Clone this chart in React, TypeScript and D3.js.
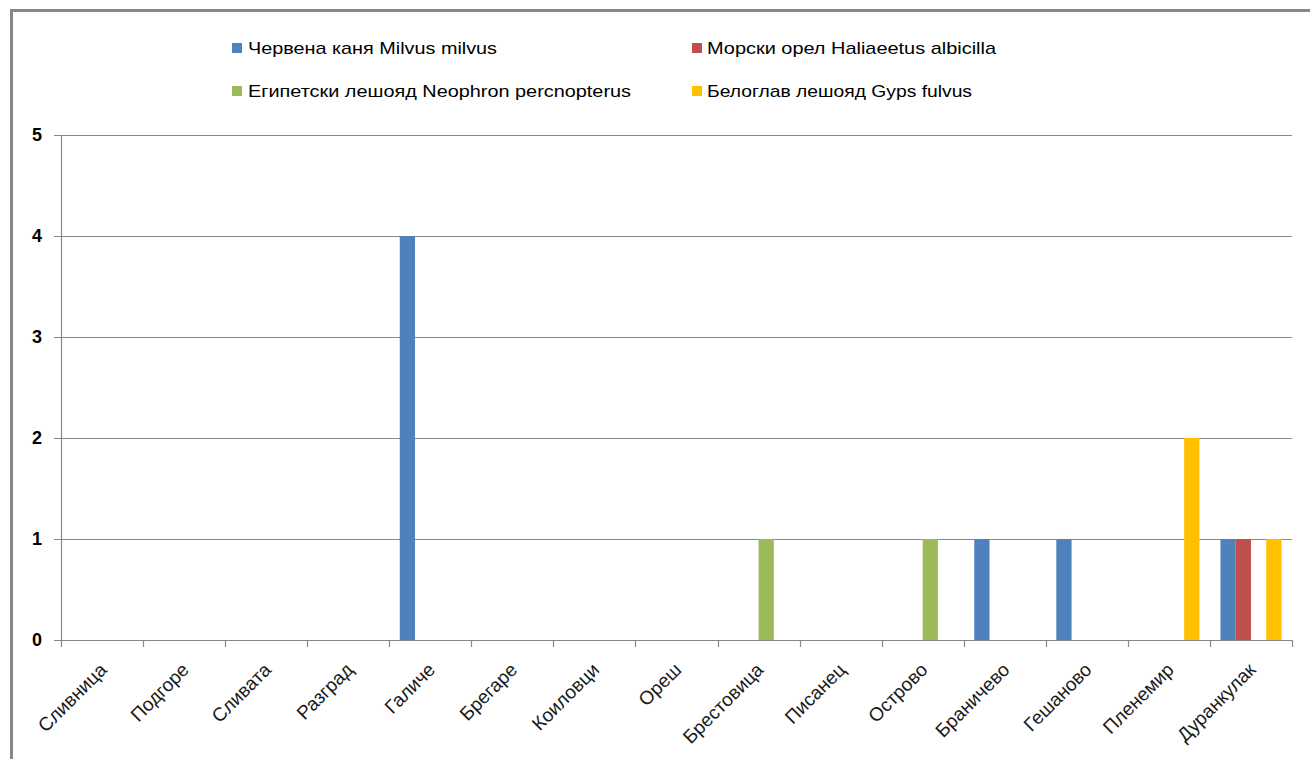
import React from "react";
import * as d3 from "d3";

const categories = ["Сливница", "Подгоре", "Сливата", "Разград", "Галиче", "Брегаре", "Коиловци", "Ореш", "Брестовица", "Писанец", "Острово", "Браничево", "Гешаново", "Пленемир", "Дуранкулак"];
const seriesNames = ["Червена каня Milvus milvus", "Морски орел Haliaeetus albicilla", "Египетски лешояд Neophron percnopterus", "Белоглав лешояд Gyps fulvus"];
const seriesColors = ["#4F81BD", "#C0504D", "#9BBB59", "#FFC000"];
const redKite = [0, 0, 0, 0, 4, 0, 0, 0, 0, 0, 0, 1, 1, 0, 1];
const whiteTailedEagle = [0, 0, 0, 0, 0, 0, 0, 0, 0, 0, 0, 0, 0, 0, 1];
const egyptianVulture = [0, 0, 0, 0, 0, 0, 0, 0, 1, 0, 1, 0, 0, 0, 0];
const griffonVulture = [0, 0, 0, 0, 0, 0, 0, 0, 0, 0, 0, 0, 0, 2, 1];
const yTicks = [0, 1, 2, 3, 4, 5];
const seriesValues = [redKite, whiteTailedEagle, egyptianVulture, griffonVulture];

const W = 1310;
const H = 759;
const left = 61;
const right = 1292;
const top = 135;
const bottom = 640;

export default function App() {
  const x = d3.scaleBand<string>().domain(categories).range([left, right]).paddingInner(0).paddingOuter(0);
  const inner = d3.scaleBand<number>().domain([0, 1, 2, 3]).range([10.5, x.bandwidth() - 10.5]);
  const y = d3.scaleLinear().domain([0, 5]).range([bottom, top]);
  const grid = "#888888";
  const legendPos = [
    { sx: 232, tx: 248, ty: 48, w: 249 },
    { sx: 692, tx: 707, ty: 48, w: 289 },
    { sx: 232, tx: 248, ty: 91, w: 383 },
    { sx: 692, tx: 707, ty: 91, w: 265 },
  ];
  return (
    <svg width={W} height={H} style={{ position: "absolute", left: 0, top: 0, background: "#fff" }}>
      <rect x={0} y={0} width={W} height={H} fill="#fff" />
      <rect x={11.5} y={10.5} width={W + 20} height={H + 20} fill="none" stroke="#878787" strokeWidth={3} />
      {yTicks.filter((t) => t > 0).map((t) => (
        <line key={t} x1={left - 7} x2={right} y1={Math.round(y(t)) + 0.5} y2={Math.round(y(t)) + 0.5} stroke={grid} strokeWidth={1.2} />
      ))}
      <line x1={left + 0.5} x2={left + 0.5} y1={top} y2={bottom + 7} stroke={grid} strokeWidth={1.2} />
      <line x1={left - 7} x2={right} y1={bottom + 0.5} y2={bottom + 0.5} stroke={grid} strokeWidth={1.2} />
      {categories.map((c, i) => (
        <line key={"t" + i} x1={Math.round(x(c)! + x.bandwidth()) + 0.5} x2={Math.round(x(c)! + x.bandwidth()) + 0.5} y1={bottom} y2={bottom + 7} stroke={grid} strokeWidth={1.2} />
      ))}
      {seriesValues.map((vals, s) =>
        vals.map((v, i) =>
          v > 0 ? (
            <rect key={s + "-" + i} x={x(categories[i])! + inner(s)!} width={inner.bandwidth()} y={y(v)} height={y(0) - y(v)} fill={seriesColors[s]} />
          ) : null
        )
      )}
      {yTicks.map((t) => (
        <text key={"y" + t} x={37} y={y(t)} dy="0.36em" textAnchor="middle" fontFamily="Liberation Sans, Arial, sans-serif" fontWeight="bold" fontSize={18} fill="#000">
          {t}
        </text>
      ))}
      {categories.map((c, i) => {
        const cx = x(c)! + x.bandwidth() / 2 + 6;
        const cy = bottom + 31;
        return (
          <text key={"x" + i} x={cx} y={cy} transform={`rotate(-45 ${cx} ${cy})`} textAnchor="end" fontFamily="Liberation Sans, Arial, sans-serif" fontSize={19} fill="#1a1a1a">
            {c}
          </text>
        );
      })}
      {seriesNames.map((n, s) => (
        <g key={"l" + s}>
          <rect x={legendPos[s].sx} y={legendPos[s].ty - 5} width={10} height={10} fill={seriesColors[s]} />
          <text x={legendPos[s].tx} y={legendPos[s].ty} dy="0.36em" fontFamily="Liberation Sans, Arial, sans-serif" fontSize={17} fill="#000" textLength={legendPos[s].w} lengthAdjust="spacingAndGlyphs">
            {n}
          </text>
        </g>
      ))}
    </svg>
  );
}
